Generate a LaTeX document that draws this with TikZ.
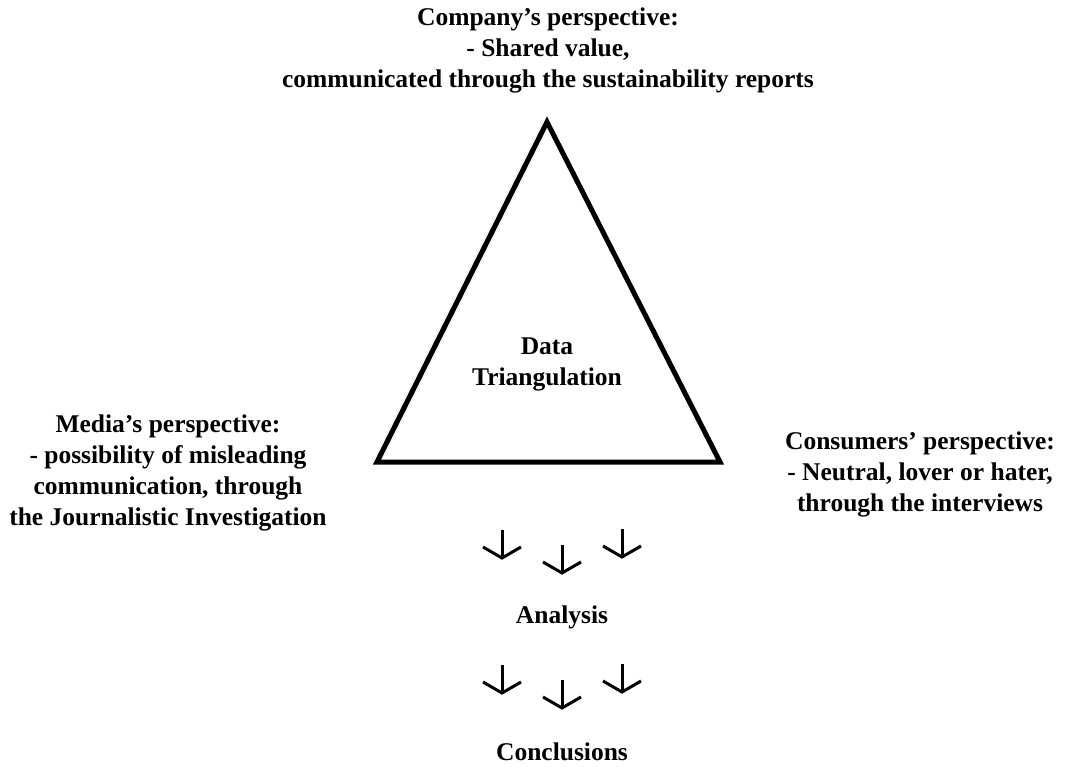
\documentclass[tikz,border=0pt]{standalone}
\usepackage{fontspec}
\setmainfont{Liberation Serif}
\begin{document}
\begin{tikzpicture}[x=1pt,y=-1pt,
  label/.style={font=\bfseries\fontsize{25.5}{31}\selectfont, align=center, inner sep=0pt},
  edge/.style={line width=5pt, line join=miter},
  downarrow/.pic={
    \draw[line width=3pt] (0,-28) -- (0,0);
    \draw[line width=3pt, line join=miter] (-19,-11) -- (0,0) -- (19,-11);
  }]
\useasboundingbox (0,0) rectangle (1065,767);

% triangle corners
\coordinate (apex) at (547,122);
\coordinate (bl) at (377,462);
\coordinate (br) at (720,462);
\draw[edge] (apex) -- (bl) -- (br) -- cycle;

\node[label] (center) at (547,364) {Data\\Triangulation};

\node[label] (company) at (548,50) {Company’s perspective:\\- Shared value,\\communicated through the sustainability reports};
\node[label] (media) at (168,473) {Media’s perspective:\\- possibility of misleading\\communication, through\\the Journalistic Investigation};
\node[label] (consumers) at (920,474) {Consumers’ perspective:\\- Neutral, lover or hater,\\through the interviews};

\node[label] (analysis) at (562,617) {Analysis};
\node[label] (conclusions) at (562,752) {Conclusions};

% arrows leading to the analysis
\pic at (502,558) {downarrow};
\pic at (562,573) {downarrow};
\pic at (622,557) {downarrow};
% arrows leading to the conclusions
\pic at (502,693) {downarrow};
\pic at (562,708) {downarrow};
\pic at (622,692) {downarrow};
\end{tikzpicture}
\end{document}
